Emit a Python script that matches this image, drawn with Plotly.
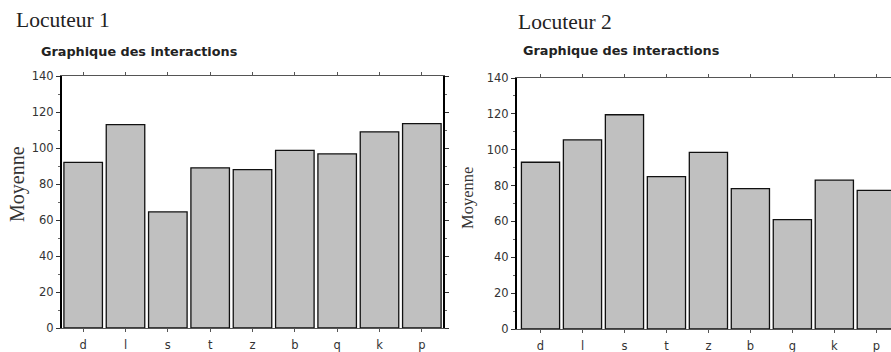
import plotly.graph_objects as go

categories_1 = ["d", "l", "s", "t", "z", "b", "q", "k", "p"]
values_1 = [92, 113, 64.5, 89, 88, 98.7, 96.7, 109, 113.5]
categories_2 = ["d", "l", "s", "t", "z", "b", "g", "k", "p"]
values_2 = [93, 105.5, 119.5, 85, 98.5, 78.3, 61, 83, 77.3]
y_ticks = [0, 20, 40, 60, 80, 100, 120, 140]

W, H = 891, 352
fig = go.Figure()
fig.add_trace(go.Bar(x=categories_1, y=values_1, marker=dict(color="#c0c0c0", line=dict(color="#111", width=1.3)),
                     xaxis="x", yaxis="y", showlegend=False))
fig.add_trace(go.Bar(x=categories_2, y=values_2, marker=dict(color="#c0c0c0", line=dict(color="#111", width=1.3)),
                     xaxis="x2", yaxis="y2", showlegend=False))

tickfont = dict(family="DejaVu Sans, Verdana, sans-serif", size=11.5, color="#333")
def xax(domain, anchor, rng):
    return dict(domain=domain, anchor=anchor, range=rng, showline=True, linecolor="#555", linewidth=1,
                mirror="allticks", ticks="outside", ticklen=3, tickcolor="#555", tickfont=tickfont,
                ticklabelstandoff=3,
                showgrid=False, zeroline=False, fixedrange=True, automargin=False)
def yax(domain, anchor):
    return dict(domain=domain, anchor=anchor, range=[0, 140], tickvals=y_ticks, showline=True, linecolor="#000",
                linewidth=2, mirror="allticks", ticks="outside", ticklen=4, tickcolor="#333", tickfont=tickfont,
                showgrid=False, zeroline=False, fixedrange=True, automargin=False,
                minor=dict(dtick=10, ticks="outside", ticklen=2, tickcolor="#666"))

fig.update_layout(
    width=W, height=H, margin=dict(l=0, r=0, t=0, b=0),
    paper_bgcolor="white", plot_bgcolor="white", bargap=0.09,
    xaxis=xax([62 / W, 443 / W], "y", [-0.5, 8.5]),
    yaxis=yax([(H - 328) / H, (H - 76) / H], "x"),
    xaxis2=xax([517 / W, 1.0], "y2", [-0.56, 8.35]),
    yaxis2=yax([(H - 329) / H, (H - 78) / H], "x2"),
)

serif = "Liberation Serif, Times New Roman, serif"
bold = "DejaVu Sans, Verdana, sans-serif"
ann = [
    dict(text="Locuteur 1", x=14, y=20, font=dict(family=serif, size=21.5, color="#222")),
    dict(text="<b>Graphique des interactions</b>", x=39, y=51, font=dict(family=bold, size=12.8, color="#222")),
    dict(text="Locuteur 2", x=516, y=22, font=dict(family=serif, size=21.5, color="#222")),
    dict(text="<b>Graphique des interactions</b>", x=521, y=50, font=dict(family=bold, size=12.8, color="#222")),
]
annotations = []
for a in ann:
    annotations.append(dict(text=a["text"], xref="paper", yref="paper", x=a["x"] / W, y=1 - a["y"] / H,
                            xanchor="left", yanchor="middle", showarrow=False, font=a["font"]))
annotations.append(dict(text="Moyenne", xref="paper", yref="paper", x=17 / W, y=1 - 184 / H, textangle=-90,
                        showarrow=False, xanchor="center", yanchor="middle",
                        font=dict(family=serif, size=20, color="#333")))
annotations.append(dict(text="Moyenne", xref="paper", yref="paper", x=467 / W, y=1 - 198 / H, textangle=-90,
                        showarrow=False, xanchor="center", yanchor="middle",
                        font=dict(family=serif, size=16.5, color="#333")))
fig.update_layout(annotations=annotations)

fig.write_html("out.html", config={"displayModeBar": False},
               post_script="document.body.style.margin='0';document.body.style.overflow='hidden';")
